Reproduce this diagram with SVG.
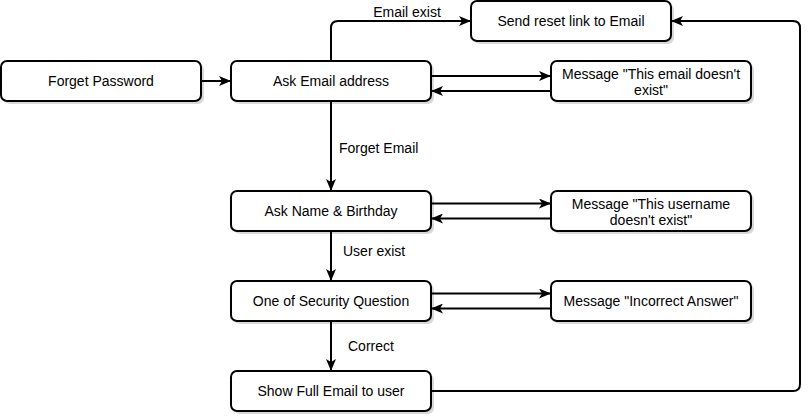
<svg xmlns="http://www.w3.org/2000/svg" width="810" height="416" viewBox="0 0 810 416">
<style>
.box{fill:#ffffff;stroke:#000000;stroke-width:2}
.shadow{fill:#000000;opacity:0.15}
.t{font-family:"Liberation Sans",Arial,Helvetica,sans-serif;font-size:14px;fill:#000000;text-anchor:middle}
.lbl{font-family:"Liberation Sans",Arial,Helvetica,sans-serif;font-size:14px;fill:#000000}
.c{fill:none;stroke:#000000;stroke-width:2}
</style>
<defs>
<marker id="arr" viewBox="0 0 12 10" markerWidth="12" markerHeight="10" refX="11" refY="5" orient="auto" markerUnits="userSpaceOnUse">
<path d="M0,0 L12,5 L0,10 L3,5 z" fill="#000000"/>
</marker>
</defs>
<rect width="810" height="416" fill="#ffffff"/>
<g id="connectors">
<path class="c" d="M202,81 H230" marker-end="url(#arr)"/>
<path class="c" d="M331,61 V28 Q331,21 338,21 H470" marker-end="url(#arr)"/>
<path class="c" d="M432,76 H550" marker-end="url(#arr)"/>
<path class="c" d="M551,91 H432" marker-end="url(#arr)"/>
<path class="c" d="M331,101 V190" marker-end="url(#arr)"/>
<path class="c" d="M432,203.5 H550" marker-end="url(#arr)"/>
<path class="c" d="M551,218.5 H432" marker-end="url(#arr)"/>
<path class="c" d="M331,231 V280" marker-end="url(#arr)"/>
<path class="c" d="M432,293.5 H550" marker-end="url(#arr)"/>
<path class="c" d="M551,308.5 H432" marker-end="url(#arr)"/>
<path class="c" d="M331,321 V370" marker-end="url(#arr)"/>
<path class="c" d="M431,391 H793 Q800,391 800,384 V28 Q800,21 793,21 H672" marker-end="url(#arr)"/>
<text class="lbl" x="407" y="17" text-anchor="middle">Email exist</text>
<text class="lbl" x="339" y="153">Forget Email</text>
<text class="lbl" x="343" y="256">User exist</text>
<text class="lbl" x="348" y="351">Correct</text>
</g>
<g id="forget-password">
<rect class="shadow" x="4" y="64" width="200" height="40" rx="6"/>
<rect class="box" x="1" y="61" width="200" height="40" rx="6"/>
<text class="t" x="101" y="86">Forget Password</text>
</g>
<g id="ask-email">
<rect class="shadow" x="234" y="64" width="200" height="40" rx="6"/>
<rect class="box" x="231" y="61" width="200" height="40" rx="6"/>
<text class="t" x="331" y="86">Ask Email address</text>
</g>
<g id="send-reset">
<rect class="shadow" x="474" y="4" width="200" height="40" rx="6"/>
<rect class="box" x="471" y="1" width="200" height="40" rx="6"/>
<text class="t" x="571" y="26">Send reset link to Email</text>
</g>
<g id="msg-email">
<rect class="shadow" x="554" y="64" width="200" height="40" rx="6"/>
<rect class="box" x="551" y="61" width="200" height="40" rx="6"/>
<text class="t" x="651" y="79">Message "This email doesn't</text>
<text class="t" x="651" y="95">exist"</text>
</g>
<g id="ask-name">
<rect class="shadow" x="234" y="194" width="200" height="40" rx="6"/>
<rect class="box" x="231" y="191" width="200" height="40" rx="6"/>
<text class="t" x="331" y="216">Ask Name &amp; Birthday</text>
</g>
<g id="msg-username">
<rect class="shadow" x="554" y="194" width="200" height="40" rx="6"/>
<rect class="box" x="551" y="191" width="200" height="40" rx="6"/>
<text class="t" x="651" y="209">Message "This username</text>
<text class="t" x="651" y="225">doesn't exist"</text>
</g>
<g id="security-question">
<rect class="shadow" x="234" y="284" width="200" height="40" rx="6"/>
<rect class="box" x="231" y="281" width="200" height="40" rx="6"/>
<text class="t" x="331" y="306">One of Security Question</text>
</g>
<g id="msg-incorrect">
<rect class="shadow" x="554" y="284" width="200" height="40" rx="6"/>
<rect class="box" x="551" y="281" width="200" height="40" rx="6"/>
<text class="t" x="651" y="306">Message "Incorrect Answer"</text>
</g>
<g id="show-email">
<rect class="shadow" x="234" y="374" width="200" height="40" rx="6"/>
<rect class="box" x="231" y="371" width="200" height="40" rx="6"/>
<text class="t" x="331" y="396">Show Full Email to user</text>
</g>
</svg>
